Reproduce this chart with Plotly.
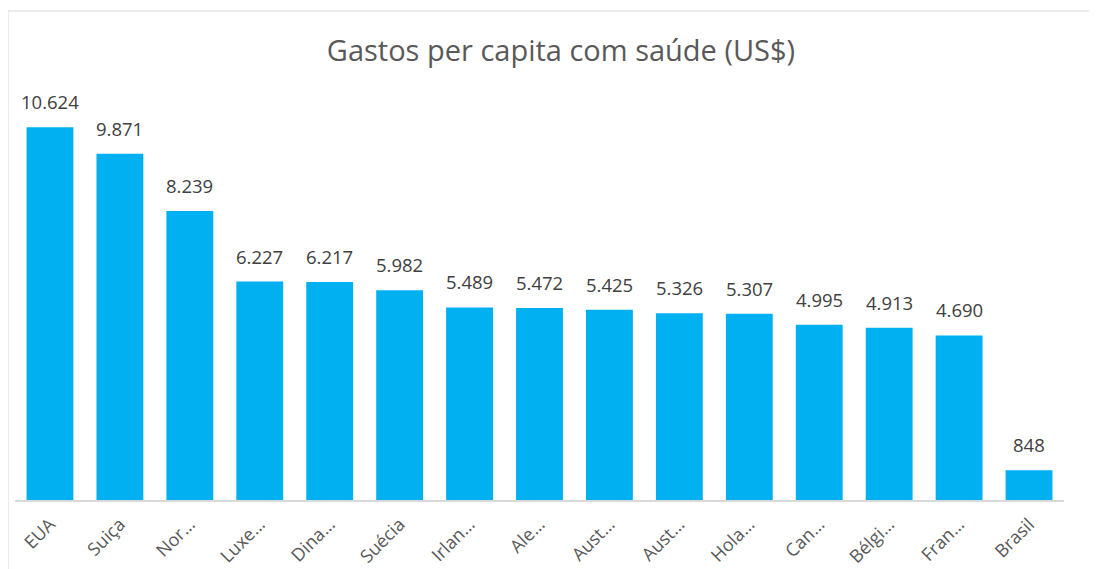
import plotly.graph_objects as go

categories = ["EUA", "Suiça", "Nor…", "Luxe…", "Dina…", "Suécia", "Irlan…", "Ale…",
              "Aust…", "Aust…", "Hola…", "Can…", "Bélgi…", "Fran…", "Brasil"]
values = [10624, 9871, 8239, 6227, 6217, 5982, 5489, 5472, 5425, 5326, 5307, 4995, 4913, 4690, 848]

x_idx = list(range(len(categories)))

fig = go.Figure(go.Bar(
    x=x_idx, y=values,
    marker=dict(color="#00B0F0", line=dict(width=0)),
    width=0.67,
    cliponaxis=False,
))

annotations = [
    dict(x=i, y=v, xref="x", yref="y", text=f"{v:,}".replace(",", "."),
         showarrow=False, yanchor="bottom", yshift=11,
         font=dict(family="Open Sans", size=18.5, color="#404040"))
    for i, v in zip(x_idx, values)
]

fig.update_layout(
    width=1097, height=569,
    margin=dict(l=7, r=41, t=71, b=77),
    paper_bgcolor="white", plot_bgcolor="white",
    title=dict(text="Gastos per capita com saúde (US$)", x=553/1097, xanchor="center",
               y=1 - 43/569, yanchor="middle",
               font=dict(family="Open Sans", size=29, color="#595959")),
    showlegend=False,
    annotations=annotations,
    xaxis=dict(tickmode="array", tickvals=x_idx, ticktext=categories,
               range=[-0.5, len(categories) - 0.5],
               tickangle=-45, showgrid=False, zeroline=False,
               showline=True, linecolor="#D9D9D9", linewidth=1.5, ticks="",
               ticklabelstandoff=5,
               tickfont=dict(family="Open Sans", size=18, color="#595959")),
    yaxis=dict(range=[0, 12000], visible=False, showgrid=False, zeroline=False),
    shapes=[dict(type="rect", xref="paper", yref="paper",
                 x0=-7/1049, x1=1.2, y0=-1, y1=(500 - 11) / 421,
                 line=dict(color="#D9D9D9", width=1), fillcolor="rgba(0,0,0,0)")],
)

fig.write_html("out.html")
